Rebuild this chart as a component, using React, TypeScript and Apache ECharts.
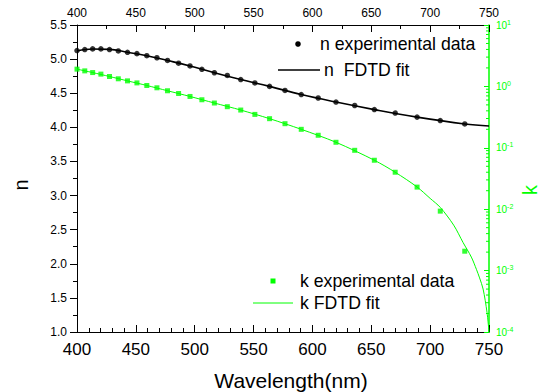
import React, { useEffect, useRef } from "react";
import * as echarts from "echarts";

const wavelengths = [400.0, 406.6, 413.3, 420.3, 427.6, 435.1, 442.9, 450.9, 459.3, 467.9, 476.9, 486.3, 496.0, 506.1, 516.7, 527.7, 539.1, 551.1, 563.6, 576.7, 590.5, 604.9, 620.0, 635.9, 652.6, 670.3, 688.9, 708.6, 729.4];
const nExp = [5.125, 5.14, 5.15, 5.15, 5.14, 5.12, 5.10, 5.08, 5.05, 5.02, 4.98, 4.94, 4.90, 4.85, 4.80, 4.76, 4.70, 4.65, 4.60, 4.54, 4.48, 4.43, 4.37, 4.32, 4.26, 4.21, 4.15, 4.10, 4.05];
const kExp = [1.91, 1.79, 1.68, 1.585, 1.45, 1.33, 1.23, 1.14, 1.035, 0.949, 0.849, 0.767, 0.686, 0.606, 0.536, 0.467, 0.412, 0.350, 0.298, 0.247, 0.200, 0.160, 0.123, 0.091, 0.0627, 0.040, 0.0229, 0.0093, 0.00207];

const nFitWl = [400, 413.3, 427.6, 442.9, 459.3, 476.9, 496.0, 516.7, 539.1, 563.6, 590.5, 620.0, 652.6, 688.9, 729.4, 750];
const nFit = [5.12, 5.148, 5.143, 5.10, 5.05, 4.98, 4.90, 4.80, 4.70, 4.60, 4.48, 4.37, 4.26, 4.15, 4.05, 4.02];

const kFitWl = [400, 413.3, 427.6, 442.9, 459.3, 476.9, 496.0, 516.7, 539.1, 563.6, 590.5, 620.0, 652.6, 670.3, 688.9, 700, 708.6, 720, 728, 735, 739.3, 742, 745, 748.3, 750];
const kFit = [1.91, 1.68, 1.45, 1.23, 1.035, 0.849, 0.686, 0.536, 0.412, 0.298, 0.200, 0.123, 0.0627, 0.040, 0.023, 0.015, 0.0107, 0.0055, 0.00286, 0.00166, 0.00105, 0.00076, 0.0005, 0.00021, 0.0001];

const xTicks = [400, 450, 500, 550, 600, 650, 700, 750];
const nTicks = [1.0, 1.5, 2.0, 2.5, 3.0, 3.5, 4.0, 4.5, 5.0, 5.5];
const kDecades = [1e-4, 1e-3, 1e-2, 1e-1, 1e0, 1e1];

const legendLabels = ["n experimental data", "n  FDTD fit", "k experimental data", "k FDTD fit"];

const GREEN = "#00ff00";
const FONT = "'Liberation Sans', Arial, sans-serif";

export default function App() {
  const ref = useRef<HTMLDivElement>(null);
  useEffect(() => {
    if (!ref.current) return;
    const chart = echarts.init(ref.current, undefined, { renderer: "svg" });

    const logMinor: number[][] = [];
    for (let d = 0; d < kDecades.length - 1; d++) {
      for (let m = 2; m <= 9; m++) logMinor.push([750, kDecades[d] * m]);
    }

    const legendText = (text: string, x: number, y: number) => ({
      type: "text",
      x,
      y,
      style: { text, fontSize: 17.7, fill: "#000", fontFamily: FONT, textAlign: "left", textVerticalAlign: "middle" },
    });

    const option: any = {
      animation: false,
      textStyle: { fontFamily: FONT },
      grid: { left: 77, right: 51, top: 25, bottom: 60, containLabel: false },
      xAxis: [
        {
          type: "value",
          position: "bottom",
          min: xTicks[0],
          max: xTicks[xTicks.length - 1],
          interval: 50,
          axisLine: { lineStyle: { color: "#000", width: 1 } },
          axisTick: { inside: true, length: 7, lineStyle: { color: "#000" } },
          minorTick: { show: true, splitNumber: 5, length: 4, lineStyle: { color: "#000" } },
          axisLabel: { fontSize: 17, color: "#000", margin: 9, fontFamily: FONT },
          splitLine: { show: false },
        },
        {
          type: "value",
          position: "top",
          min: xTicks[0],
          max: xTicks[xTicks.length - 1],
          interval: 50,
          axisLine: { lineStyle: { color: "#000", width: 1 } },
          axisTick: { inside: true, length: 7, lineStyle: { color: "#000" } },
          minorTick: { show: true, splitNumber: 2, length: 4, lineStyle: { color: "#000" } },
          axisLabel: { fontSize: 12, color: "#000", margin: 6, fontFamily: FONT },
          splitLine: { show: false },
        },
      ],
      yAxis: [
        {
          type: "value",
          position: "left",
          min: nTicks[0],
          max: nTicks[nTicks.length - 1],
          interval: 0.5,
          axisLine: { show: true, lineStyle: { color: "#000", width: 1 } },
          axisTick: { show: true, inside: false, length: 7, lineStyle: { color: "#000" } },
          minorTick: { show: true, splitNumber: 2, length: 4, lineStyle: { color: "#000" } },
          axisLabel: {
            fontSize: 12,
            color: "#000",
            margin: 10,
            fontFamily: FONT,
            formatter: (v: number) => v.toFixed(1),
          },
          splitLine: { show: false },
        },
        {
          type: "log",
          logBase: 10,
          position: "right",
          min: kDecades[0],
          max: kDecades[kDecades.length - 1],
          axisLine: { show: true, lineStyle: { color: GREEN, width: 1.5 } },
          axisTick: { show: true, inside: true, length: 5, lineStyle: { color: GREEN } },
          axisLabel: {
            color: GREEN,
            margin: 7,
            fontFamily: FONT,
            formatter: (v: number) => `{b|10}{s|${Math.round(Math.log10(v))}}`,
            rich: {
              b: { fontSize: 10, color: GREEN, fontFamily: FONT },
              s: { fontSize: 7, color: GREEN, fontFamily: FONT, padding: [0, 0, 6, 0] },
            },
          },
          splitLine: { show: false },
        },
      ],
      graphic: [
        {
          type: "text",
          x: 291,
          y: 380,
          style: { text: "Wavelength(nm)", fontSize: 21, fill: "#000", fontFamily: FONT, textAlign: "center", textVerticalAlign: "middle" },
        },
        {
          type: "text",
          x: 21,
          y: 185,
          rotation: Math.PI / 2,
          style: { text: "n", fontSize: 20, fill: "#000", fontFamily: FONT, textAlign: "center", textVerticalAlign: "middle" },
        },
        {
          type: "text",
          x: 530,
          y: 190,
          rotation: Math.PI / 2,
          style: { text: "k", fontSize: 20, fill: GREEN, fontFamily: FONT, textAlign: "center", textVerticalAlign: "middle" },
        },
        // legend: n
        { type: "circle", shape: { cx: 298, cy: 44, r: 2.8 }, style: { fill: "#000" } },
        legendText(legendLabels[0], 320, 44),
        { type: "line", shape: { x1: 278, y1: 70, x2: 320, y2: 70 }, style: { stroke: "#000", lineWidth: 1.6 } },
        legendText(legendLabels[1], 324, 70),
        // legend: k
        { type: "rect", shape: { x: 270.5, y: 278.5, width: 5, height: 5 }, style: { fill: GREEN } },
        legendText(legendLabels[2], 300, 281),
        { type: "line", shape: { x1: 253, y1: 303, x2: 293, y2: 303 }, style: { stroke: GREEN, lineWidth: 1 } },
        legendText(legendLabels[3], 300, 303),
      ],
      series: [
        {
          name: legendLabels[1],
          type: "line",
          xAxisIndex: 0,
          yAxisIndex: 0,
          data: nFitWl.map((w, i) => [w, nFit[i]]),
          smooth: 0.4,
          symbol: "none",
          lineStyle: { color: "#000", width: 1.6 },
          itemStyle: { color: "#000" },
          z: 2,
        },
        {
          name: legendLabels[0],
          type: "scatter",
          xAxisIndex: 0,
          yAxisIndex: 0,
          data: wavelengths.map((w, i) => [w, nExp[i]]),
          symbol: "circle",
          symbolSize: 5.5,
          itemStyle: { color: "#000" },
          clip: false,
          z: 3,
        },
        {
          name: legendLabels[3],
          type: "line",
          xAxisIndex: 0,
          yAxisIndex: 1,
          data: kFitWl.map((w, i) => [w, kFit[i]]),
          smooth: 0.3,
          symbol: "none",
          lineStyle: { color: GREEN, width: 1 },
          itemStyle: { color: GREEN },
          z: 2,
        },
        {
          name: legendLabels[2],
          type: "scatter",
          xAxisIndex: 0,
          yAxisIndex: 1,
          data: wavelengths.map((w, i) => [w, kExp[i]]),
          symbol: "rect",
          symbolSize: 5,
          itemStyle: { color: GREEN },
          clip: false,
          z: 3,
        },
        {
          name: "kMinorTicks",
          type: "custom",
          xAxisIndex: 0,
          yAxisIndex: 1,
          silent: true,
          clip: false,
          data: logMinor,
          renderItem: (params: any, api: any) => {
            const p = api.coord([api.value(0), api.value(1)]);
            return {
              type: "line",
              shape: { x1: p[0] - 3, y1: p[1], x2: p[0], y2: p[1] },
              style: { stroke: GREEN, lineWidth: 1 },
            };
          },
          z: 4,
        },
      ],
    };
    chart.setOption(option);
    return () => chart.dispose();
  }, []);

  return (
    <div
      ref={ref}
      style={{ position: "fixed", left: 0, top: 0, width: 540, height: 392, background: "#fff" }}
    />
  );
}
